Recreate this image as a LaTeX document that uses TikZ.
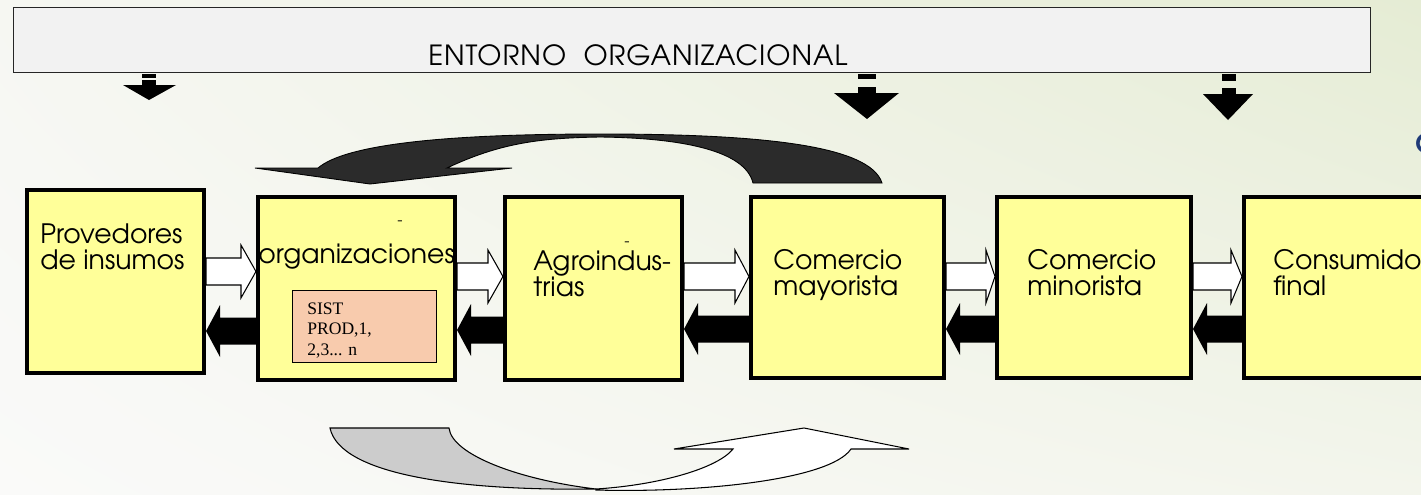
\documentclass[tikz,border=0pt]{standalone}
\usepackage{fontspec}
\setmainfont{texgyreadventor-regular.otf}[BoldFont=texgyreadventor-bold.otf]
\newfontfamily\sistfont{Liberation Serif}
\usetikzlibrary{calc,shadings}

\definecolor{boxyellow}{HTML}{FFFF99}
\definecolor{sistpeach}{HTML}{F8CBAD}
\definecolor{bannergray}{HTML}{F2F2F2}
\definecolor{sweepdark}{HTML}{2B2B2B}
\definecolor{sweepgray}{HTML}{CCCCCC}
\definecolor{navymark}{HTML}{1F3A78}
\definecolor{bgul}{RGB}{246,247,242}
\definecolor{bgur}{RGB}{229,236,212}
\definecolor{bgll}{RGB}{250,250,249}
\definecolor{bglr}{RGB}{243,245,236}

\newcommand{\px}{0.02cm}
% hollow arrow, from box #1 to box #2, centre height #3, head length #4
\newcommand{\fwdflow}[4]{%
  \draw[whiteflow] let \p1=(#1.east), \p2=(#2.west), \p3=(0,#3) in
    (\x1,\y3+13.5*\px) -- (\x2-#4*\px,\y3+13.5*\px) -- (\x2-#4*\px,\y3+26.5*\px)
    -- (\x2,\y3) -- (\x2-#4*\px,\y3-26.5*\px) -- (\x2-#4*\px,\y3-13.5*\px)
    -- (\x1,\y3-13.5*\px) -- cycle;}
% solid arrow back, from box #2 to box #1
\newcommand{\backflow}[3]{%
  \fill[blackflow] let \p1=(#1.east), \p2=(#2.west), \p3=(0,#3) in
    (\x1,\y3) -- (\x1+14*\px,\y3+26*\px) -- (\x1+14*\px,\y3+13.5*\px)
    -- (\x2,\y3+13.5*\px) -- (\x2,\y3-13.5*\px) -- (\x1+14*\px,\y3-13.5*\px)
    -- (\x1+14*\px,\y3-26*\px) -- cycle;}

\begin{document}
\begin{tikzpicture}
        [%%%%%%%%%%%%%%%%%%%%%%%%%%%%%%
        x=\px, y=-\px,
        banner/.style={draw=black!85, fill=bannergray, line width=0.8pt, inner sep=0pt},
        stage/.style={draw=black, fill=boxyellow, line width=2.3pt, inner sep=0pt},
        sist/.style={draw=black, fill=sistpeach, line width=0.5pt, inner sep=0pt},
        lbl/.style={font=\fontsize{15.2}{14.8}\selectfont, inner sep=0pt, align=left, anchor=base west},
        dashmark/.style={font=\fontsize{9}{9}\selectfont, inner sep=0pt, anchor=base},
        whiteflow/.style={fill=white, draw=black, line width=0.6pt},
        blackflow/.style={fill=black},
        ]%%%%%%%%%%%%%%%%%%%%%%%%%%%%%%
        \useasboundingbox (0,0) rectangle (1421,494);
        \clip (0,0) rectangle (1421,494);
        \shade[upper left=bgul, upper right=bgur, lower left=bgll, lower right=bglr]
          (0,0) rectangle (1421,494);

        % Entorno
        \node[banner, minimum width=1357*\px, minimum height=65*\px] (entorno) at (692,40) {};
        \node[lbl, font=\fontsize{15.8}{15.8}\selectfont\addfontfeature{LetterSpace=3.5}]
          (entornolbl) at (428,65) {ENTORNO\ \ ORGANIZACIONAL};
        \fill (142,74) rectangle (156,77.5);
        \fill (142,80) rectangle (156,85);
        \fill (123,85) -- (176,85) -- (149,100) -- cycle;
        \fill (858,74) rectangle (876,79);
        \fill (858,87) rectangle (876,93);
        \fill (834,93) -- (899,93) -- (867,119) -- cycle;
        \fill (1222,74) rectangle (1236,81);
        \fill (1222,88) rectangle (1236,94);
        \fill (1203,94) -- (1253,94) -- (1228,120) -- cycle;

        % Curved arrow, top
        \filldraw[fill=sweepdark, draw=black, line width=0.5pt]
          (882,183) .. controls (870,145) and (760,134) .. (600,134)
          .. controls (440,134) and (345,145) .. (318,168)
          -- (255,168) -- (370,184) -- (512,168) -- (447,168)
          .. controls (500,143) and (540,138) .. (600,137)
          .. controls (680,138) and (745,150) .. (753,183) -- cycle;

        % Chain
        \node[stage, minimum width=177*\px, minimum height=183*\px] (prov) at (115.5,281.5) {};
        \node[stage, minimum width=197*\px, minimum height=183*\px] (orga) at (356.5,288.5) {};
        \node[stage, minimum width=177*\px, minimum height=183*\px] (agro) at (593.5,288.5) {};
        \node[stage, minimum width=193*\px, minimum height=181*\px] (mayor) at (847.5,287.5) {};
        \node[stage, minimum width=194*\px, minimum height=181*\px] (minor) at (1094,287.5) {};
        \node[stage, minimum width=196*\px, minimum height=181*\px] (consum) at (1342,287.5) {};
        \node[sist, minimum width=144*\px, minimum height=72*\px] (sistbox) at (364,326) {};

        \fwdflow{prov}{orga}{271.5}{15}
        \fwdflow{orga}{agro}{276.5}{15}
        \fwdflow{agro}{mayor}{276.5}{14}
        \fwdflow{mayor}{minor}{276.5}{9}
        \fwdflow{minor}{consum}{276.5}{11}
        \backflow{prov}{orga}{331}
        \backflow{orga}{agro}{330}
        \backflow{agro}{mayor}{329}
        \backflow{mayor}{minor}{329}
        \backflow{minor}{consum}{329}

        % Curved arrow, bottom
        \filldraw[fill=white, draw=black, line width=0.6pt]
          (596,490) .. controls (700,493) and (830,480) .. (851,449)
          -- (909,449) -- (804,428) -- (674,449) -- (733,449)
          .. controls (718,468) and (660,485) .. (596,489) -- cycle;
        \filldraw[fill=sweepgray, draw=black, line width=0.6pt]
          (330,428) -- (449,428) .. controls (452,455) and (520,480) .. (596,489)
          .. controls (460,491) and (340,475) .. (330,428) -- cycle;

        % Text
        \node[lbl] (provlbl) at (40,269) {Provedores\\de insumos};
        \node[dashmark] (orgadash) at (400,225) {-};
        \node[lbl] (orgalbl) at (258,263) {organizaciones};
        \node[dashmark] (agrodash) at (627,246) {-};
        \node[lbl] (agrolbl) at (533,296) {Agroindus-\\trias};
        \node[lbl] (mayorlbl) at (773,295) {Comercio\\mayorista};
        \node[lbl] (minorlbl) at (1027,295) {Comercio\\minorista};
        \node[lbl] (consumlbl) at (1273,295) {Consumido\\final};
        \node[font=\sistfont\fontsize{10}{11.6}\selectfont, inner sep=0pt, align=left, anchor=base west]
          (sistlbl) at (307,355) {SIST\\PROD,1,\\2,3... n};
        \node[lbl, font=\fontsize{15.2}{15.2}\selectfont\bfseries, text=navymark] (cmark) at (1415,153) {C};
      \end{tikzpicture}
\end{document}
